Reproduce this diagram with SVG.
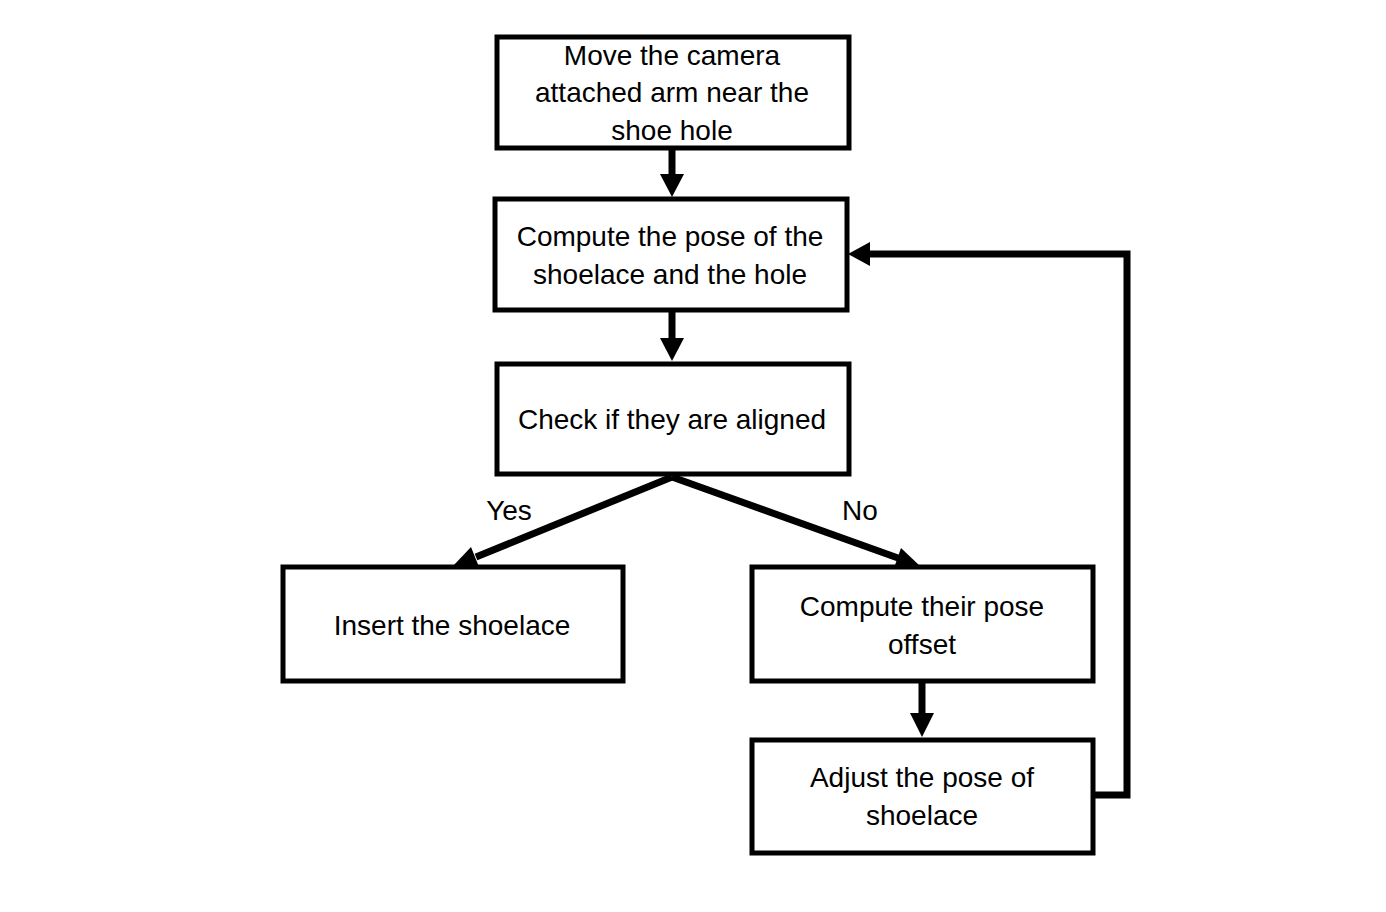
<svg xmlns="http://www.w3.org/2000/svg" width="1386" height="912" viewBox="0 0 1386 912">
<style>
.box{fill:#fff;stroke:#000;stroke-width:5}
.t{font-family:"Liberation Sans",Arial,sans-serif;font-size:28px;fill:#000;text-anchor:middle}
.c{fill:none;stroke:#000;stroke-width:7}
.h{fill:#000}
</style>
<rect width="1386" height="912" fill="#fff"/>
<g id="connectors">
<line class="c" x1="672" y1="148" x2="672" y2="176"/>
<polygon class="h" points="660,174 684,174 672,197"/>
<line class="c" x1="672" y1="310" x2="672" y2="340"/>
<polygon class="h" points="660,338 684,338 672,361"/>
<line class="c" x1="672" y1="477" x2="476" y2="557"/>
<polygon class="h" points="453,566 471,547 479,567"/>
<line class="c" x1="672" y1="477" x2="898" y2="558"/>
<polygon class="h" points="920,566 894,568 901,548"/>
<line class="c" x1="922" y1="682" x2="922" y2="716"/>
<polygon class="h" points="910,713 934,713 922,737"/>
<polyline class="c" points="1093,795 1127,795 1127,254 868,254"/>
<polygon class="h" points="848,254 870,242 870,266"/>
</g>
<g id="n1"><rect class="box" x="497" y="37" width="352" height="111"/>
<text class="t" x="672" y="65">Move the camera</text>
<text class="t" x="672" y="102">attached arm near the</text>
<text class="t" x="672" y="140">shoe hole</text></g>
<g id="n2"><rect class="box" x="495" y="199" width="352" height="111"/>
<text class="t" x="670" y="246">Compute the pose of the</text>
<text class="t" x="670" y="284">shoelace and the hole</text></g>
<g id="n3"><rect class="box" x="497" y="364" width="352" height="110"/>
<text class="t" x="672" y="429">Check if they are aligned</text></g>
<g id="n4"><rect class="box" x="283" y="567" width="340" height="114"/>
<text class="t" x="452" y="635">Insert the shoelace</text></g>
<g id="n5"><rect class="box" x="752" y="567" width="341" height="114"/>
<text class="t" x="922" y="616">Compute their pose</text>
<text class="t" x="922" y="654">offset</text></g>
<g id="n6"><rect class="box" x="752" y="740" width="341" height="113"/>
<text class="t" x="922" y="787">Adjust the pose of</text>
<text class="t" x="922" y="825">shoelace</text></g>
<g id="labels">
<text class="t" x="509" y="520">Yes</text>
<text class="t" x="860" y="520">No</text>
</g>
</svg>
